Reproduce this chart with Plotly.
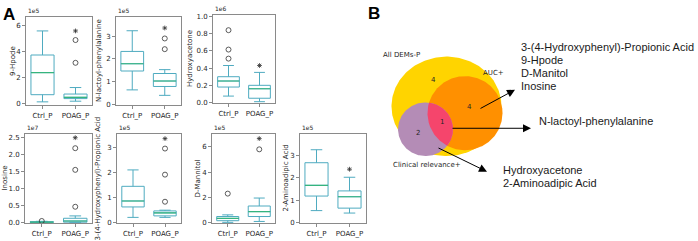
import numpy as np
import plotly.graph_objects as go

W, H = 698, 241

# ---------------- data (panel A) ----------------
groups = ["Ctrl_P", "POAG_P"]
metabolites = ["9-Hpode", "N-lactoyl-phenylalanine", "Hydroxyacetone", "Inosine",
               "3-(4-Hydroxyphenyl)-Propionic Acid", "D-Mannitol", "2-Aminoadipic Acid"]
exponents = ["1e5", "1e5", "1e6", "1e7", "1e5", "1e5", "1e5"]

lowerfence = [[0.15, 0.20], [0.64, 0.40], [0.075, 0.01], [0.000, 0.000],
              [0.20, 0.20], [0.03, 0.10], [0.54, 0.43]]
q1 = [[0.70, 0.40], [1.47, 0.79], [0.18, 0.05], [0.003, 0.005],
      [0.62, 0.26], [0.16, 0.49], [1.19, 0.65]]
median = [[2.40, 0.50], [1.79, 1.03], [0.25, 0.16], [0.008, 0.04],
          [0.86, 0.38], [0.34, 0.88], [1.67, 1.16]]
q3 = [[3.75, 0.75], [2.33, 1.36], [0.30, 0.20], [0.015, 0.12],
      [1.45, 0.46], [0.49, 1.32], [2.68, 1.42]]
upperfence = [[5.60, 1.25], [3.24, 1.53], [0.43, 0.35], [0.030, 0.19],
              [2.11, 0.49], [0.62, 1.95], [3.26, 2.03]]
outliers_ctrl = [[], [], [0.51, 0.615, 0.84], [0.04], [], [2.3], []]
outliers_poag = [[3.15, 4.9], [2.43, 2.9], [], [0.46, 1.55, 2.19],
                 [0.83, 1.92, 2.97], [5.8], []]
star_poag = [5.6, 3.36, 0.43, 2.5, 3.37, 6.65, 2.39]

yticks = [[0, 2, 4, 6], [0, 1, 2, 3], [0, 0.2, 0.4, 0.6, 0.8, 1.0],
          [0, 0.5, 1.0, 1.5, 2.0, 2.5], [0, 1, 2, 3], [0, 2, 4, 6], [0, 1, 2, 3]]
ytickformat = ["d", "d", ".1f", ".1f", "d", "d", "d"]

# ---------------- data (panel B) ----------------
venn_sets = ["All DEMs-P", "AUC+", "Clinical relevance+"]
venn_counts = ["4", "4", "1", "2"]
group_auc = ["3-(4-Hydroxyphenyl)-Propionic Acid", "9-Hpode", "D-Manitol", "Inosine"]
group_all = ["N-lactoyl-phenylalanine"]
group_clin = ["Hydroxyacetone", "2-Aminoadipic Acid"]

# ---------------- layout geometry (pixels) ----------------
frames = [(26, 92, 15, 106), (116, 181, 15, 106), (213, 275, 13, 104),
          (25, 92, 135, 227), (117, 181, 135, 227), (212, 275, 135, 227),
          (300, 366, 135, 227)]
yranges = [[-0.12, 6.7], [-0.04, 3.86], [-0.01, 1.02], [-0.03, 2.62],
           [-0.04, 3.57], [-0.05, 7.04], [-0.03, 3.98]]
title_x = [13, 99, 190, 5, 98, 198, 286]

BOX = "#4fabc0"
MED = "#35b47e"
FRAME = "#8a8a8a"
TXT = "#262626"
TF = "DejaVu Sans"
AF = "Liberation Sans, Arial"

fig = go.Figure()
layout = dict(width=W, height=H, margin=dict(l=0, r=0, t=0, b=0),
              paper_bgcolor="white", plot_bgcolor="rgba(0,0,0,0)",
              showlegend=False, boxmode="overlay")
annotations = []

for i in range(7):
    s = "" if i == 0 else str(i + 1)
    xa, ya = "x" + s, "y" + s
    x0, x1, y0, y1 = frames[i]
    fig.add_trace(go.Box(x=groups, q1=q1[i], median=median[i], q3=q3[i],
                         lowerfence=lowerfence[i], upperfence=upperfence[i],
                         boxpoints=False, width=0.7, whiskerwidth=0.5,
                         line=dict(color=BOX, width=1), fillcolor="white",
                         xaxis=xa, yaxis=ya, hoverinfo="skip"))
    fig.add_trace(go.Box(x=groups, q1=median[i], median=median[i], q3=median[i],
                         lowerfence=median[i], upperfence=median[i],
                         boxpoints=False, width=0.7, whiskerwidth=0,
                         line=dict(color=MED, width=1.2), fillcolor="rgba(0,0,0,0)",
                         xaxis=xa, yaxis=ya, hoverinfo="skip"))
    ox = [groups[0]] * len(outliers_ctrl[i]) + [groups[1]] * len(outliers_poag[i])
    oy = outliers_ctrl[i] + outliers_poag[i]
    if oy:
        fig.add_trace(go.Scatter(x=ox, y=oy, mode="markers", xaxis=xa, yaxis=ya,
                                 marker=dict(symbol="circle-open", size=5, color="#333",
                                             line=dict(width=0.8, color="#333"))))
    fig.add_trace(go.Scatter(x=[groups[1]], y=[star_poag[i]], mode="markers",
                             xaxis=xa, yaxis=ya,
                             marker=dict(symbol="asterisk-open", size=4, color="#333",
                                         line=dict(width=0.8, color="#333"))))
    layout["xaxis" + s] = dict(domain=[x0 / W, x1 / W], anchor=ya, type="category",
                               categoryorder="array", categoryarray=groups,
                               range=[-0.5, 1.5], showline=True, mirror=True,
                               linecolor=FRAME, linewidth=1, ticks="outside",
                               ticklen=3, tickcolor=FRAME, showgrid=False,
                               zeroline=False,
                               tickfont=dict(family=TF, size=7, color=TXT))
    layout["yaxis" + s] = dict(domain=[1 - y1 / H, 1 - y0 / H], anchor=xa,
                               range=yranges[i], tickvals=yticks[i],
                               tickformat=ytickformat[i], showline=True, mirror=True,
                               linecolor=FRAME, linewidth=1, ticks="outside",
                               ticklen=3, tickcolor=FRAME, showgrid=False,
                               zeroline=False,
                               tickfont=dict(family=TF, size=7, color=TXT))
    annotations.append(dict(text=metabolites[i], textangle=-90, xref="paper",
                            yref="paper", x=title_x[i] / W,
                            y=1 - (y0 + y1) / 2 / H, xanchor="center",
                            yanchor="middle", showarrow=False,
                            font=dict(family=TF, size=7, color=TXT)))
    annotations.append(dict(text=exponents[i], xref="paper", yref="paper",
                            x=x0 / W, y=1 - (y0 - 1) / H, xanchor="left",
                            yanchor="bottom", showarrow=False,
                            font=dict(family=TF, size=6, color=TXT)))

# ---------------- Venn (panel B) ----------------
VX0 = 370
layout["xaxis8"] = dict(domain=[VX0 / W, 1], range=[VX0, W], visible=False,
                        anchor="y8")
layout["yaxis8"] = dict(domain=[0, 1], range=[H, 0], visible=False, anchor="x8")

ellipses = {  # cx, cy, rx, ry
    "all": (446.5, 107, 55, 51),
    "auc": (465, 114, 37.5, 38),
    "clin": (425.5, 130.5, 27.5, 27.5),
}
t = np.linspace(0, 2 * np.pi, 241)


def ell(key):
    cx, cy, rx, ry = ellipses[key]
    return cx + rx * np.cos(t), cy + ry * np.sin(t)


def inside(key, x, y):
    cx, cy, rx, ry = ellipses[key]
    return ((x - cx) / rx) ** 2 + ((y - cy) / ry) ** 2 <= 1


colors = {"all": "#FFD400", "auc": "#FF9000", "clin": "#B48CB6"}
for key in ["all", "auc", "clin"]:
    ex, ey = ell(key)
    fig.add_trace(go.Scatter(x=ex, y=ey, fill="toself", mode="lines",
                             fillcolor=colors[key], line=dict(width=0),
                             xaxis="x8", yaxis="y8", hoverinfo="skip"))

# lens auc ∩ clin
ax_, ay_ = ell("clin")
bx_, by_ = ell("auc")
m1 = inside("auc", ax_, ay_)
m2 = inside("clin", bx_, by_)
lx = np.concatenate([ax_[m1], bx_[m2]])
ly = np.concatenate([ay_[m1], by_[m2]])
order = np.argsort(np.arctan2(ly - ly.mean(), lx - lx.mean()))
lx, ly = lx[order], ly[order]
fig.add_trace(go.Scatter(x=np.append(lx, lx[0]), y=np.append(ly, ly[0]),
                         fill="toself", mode="lines", fillcolor="#F5456C",
                         line=dict(width=0), xaxis="x8", yaxis="y8",
                         hoverinfo="skip"))

vf = dict(family=TF, size=7, color=TXT)
count_pos = [(433, 80), (469, 108), (442, 123), (418, 134)]
for c, (px, py) in zip(venn_counts, count_pos):
    annotations.append(dict(text=c, x=px, y=py, xref="x8", yref="y8",
                            showarrow=False, font=vf))
set_label_pos = [(401, 54), (493, 73), (427, 167)]
for lab, (px, py) in zip(venn_sets, set_label_pos):
    annotations.append(dict(text=lab, x=px, y=py, xref="x8", yref="y8",
                            showarrow=False, font=vf))

arrows = [((479, 110), (515, 90)), ((451, 129.5), (531, 129.5)),
          ((437, 149), (487, 174))]
for (tx, ty), (hx, hy) in arrows:
    annotations.append(dict(x=hx, y=hy, ax=tx, ay=ty, xref="x8", yref="y8",
                            axref="x8", ayref="y8", text="", showarrow=True,
                            arrowhead=2, arrowsize=1.6, arrowwidth=1,
                            arrowcolor="black"))

bf = dict(family=AF, size=11, color="#1a1a1a")
for k, name in enumerate(group_auc):
    annotations.append(dict(text=name, x=519, y=46 + 13.4 * k, xref="x8", yref="y8",
                            xanchor="left", yanchor="middle", showarrow=False, font=bf))
for k, name in enumerate(group_all):
    annotations.append(dict(text=name, x=537, y=122 + 14 * k, xref="x8", yref="y8",
                            xanchor="left", yanchor="middle", showarrow=False, font=bf))
for k, name in enumerate(group_clin):
    annotations.append(dict(text=name, x=501, y=172 + 14 * k, xref="x8", yref="y8",
                            xanchor="left", yanchor="middle", showarrow=False, font=bf))

# panel letters
lf = dict(family=AF, size=17, color="black")
annotations.append(dict(text="<b>A</b>", x=1 / W, y=1 - 1 / H, xref="paper",
                        yref="paper", xanchor="left", yanchor="top",
                        showarrow=False, font=lf))
annotations.append(dict(text="<b>B</b>", x=366 / W, y=1 - 0 / H, xref="paper",
                        yref="paper", xanchor="left", yanchor="top",
                        showarrow=False, font=lf))

layout["annotations"] = annotations
fig.update_layout(**layout)
fig.write_html("out.html", config={"displayModeBar": False},
               post_script="document.body.style.margin='0';"
                           "document.body.style.padding='0';"
                           "document.body.style.overflow='hidden';")
